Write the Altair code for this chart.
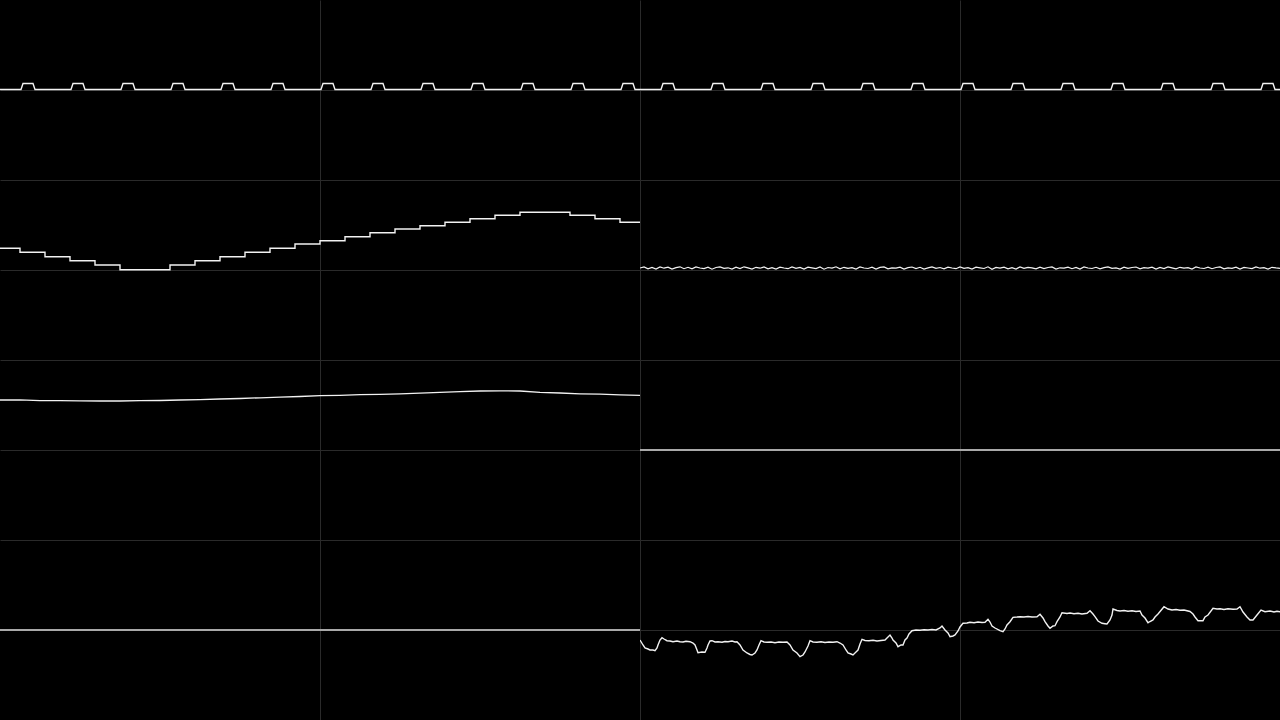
import altair as alt
import pandas as pd
import numpy as np

# ---------------- data (x in samples 0..640 per panel, y offset from panel centre) -------------
pulse_starts = [21, 71, 121, 171, 221, 271, 321, 371, 421, 471, 521, 571, 621]
pulse_low, pulse_high = 0.5, 6.5
pulse_rise, pulse_width = 2, 12

step_x = [0, 20, 45, 70, 95, 120, 170, 195, 220, 245, 270, 295, 320, 345, 370,
          395, 420, 445, 470, 495, 520, 570, 595, 620, 640]
step_y = [21.7, 17.7, 13.3, 9.3, 5, 0.3, 5, 9.3, 13.3, 17.7, 21.7, 26, 29.3, 33.3, 37.3,
          41, 44.3, 47.7, 51.3, 54.7, 57.7, 54.7, 51.3, 47.7, 47.7]

noise_y = [2.0, 3.0, 1.2, 2.6, 1.0, 3.1, 1.8, 2.9, 0.9, 2.4, 3.2, 1.3, 2.7, 1.1, 3.0, 2.0,
           1.4, 2.8, 0.8, 2.5, 3.1, 1.6, 2.2, 1.0, 2.9, 1.5, 3.2, 2.1, 1.0, 2.7, 1.8, 3.0,
           1.2, 2.4, 0.9, 2.8, 2.0, 1.3, 3.1, 1.7, 2.6, 1.0, 2.9, 2.2, 1.4, 3.0, 0.8, 2.5,
           1.9, 3.2, 1.1, 2.7, 1.6, 2.3, 1.0, 3.0, 2.0, 1.5, 2.8, 0.9, 2.6, 3.1, 1.2, 2.2,
           1.8, 2.9, 1.0, 2.4, 3.0, 1.4, 2.7, 0.9, 2.1, 3.1, 1.6, 2.5, 1.1, 2.8, 2.0, 1.3,
           3.0, 1.7, 2.4, 1.0, 2.9, 2.2, 1.5, 3.2, 0.8, 2.6, 1.9, 2.8, 1.2, 2.3, 1.0, 3.0,
           1.6, 2.7, 2.1, 1.1, 2.9, 1.4, 2.5, 3.1, 1.0, 2.2, 1.8, 2.8, 1.3, 2.6, 0.9, 3.0,
           2.0, 1.5, 2.7, 1.2, 2.4, 3.1, 1.7, 2.1, 1.0, 2.9, 1.6, 2.5, 3.0, 1.1, 2.3, 1.9,
           2.8, 1.0, 2.6, 1.4, 3.1, 2.2, 1.2, 2.7, 1.8, 2.4, 0.9, 3.0, 2.0, 1.5, 2.8, 1.3,
           2.5, 3.1, 1.1, 2.2, 1.7, 2.9, 1.0, 2.6, 2.0, 1.4, 3.0, 1.8, 2.3, 1.0, 2.7, 2.1, 1.6]

slow_x = [0, 20, 40, 60, 80, 100, 120, 140, 160, 180, 200, 220, 240, 260, 280, 300, 320,
          340, 360, 380, 400, 420, 440, 460, 480, 500, 520, 540, 560, 580, 600, 620, 640]
slow_y = [50, 50.2, 49.3, 49.3, 49.2, 49, 49, 49.3, 49.5, 50, 50.4, 51, 51.5, 52.2, 52.8, 53.5,
          54.3, 54.6, 55.3, 55.7, 56.2, 56.8, 57.6, 58.3, 59, 59.2, 59, 57.6, 57, 56.2, 55.8,
          55.2, 54.7]

flat_x = [0, 640]
flat_y = [0, 0]

drift_x = [0, 3, 5, 8, 10, 13, 15, 17, 18, 20, 22, 24, 27, 30, 33, 37, 40, 43, 46, 50,
           53, 55, 57, 58, 62, 65, 67, 68, 70, 72, 75, 78, 82, 85, 88, 92, 95, 97, 100, 103,
           107, 110, 112, 115, 117, 119, 121, 124, 127, 131, 135, 139, 143, 147, 150, 153,
           157, 160, 163, 165, 168, 170, 173, 177, 181, 185, 189, 193, 197, 200, 203, 206,
           208, 211, 213, 216, 218, 220, 222, 225, 229, 233, 237, 241, 245, 247, 250, 252,
           253, 256, 258, 261, 263, 265, 267, 269, 272, 276, 280, 284, 288, 292, 296, 300,
           302, 305, 308, 310, 313, 315, 318, 320,
           323, 327, 330, 334, 338, 342, 345, 348, 350, 352, 355, 360, 363, 365, 367, 370,
           373, 377, 380, 384, 388, 392, 397, 400, 403, 405, 408, 410, 413, 415, 417, 420,
           422, 427, 430, 434, 438, 442, 447, 450, 453, 455, 458, 462, 465, 467, 470, 472,
           473, 477, 480, 484, 488, 492, 496, 500, 502, 505, 508, 510, 513, 515, 518, 524,
           528, 532, 536, 540, 544, 550, 553, 555, 558, 563, 565, 568, 573, 577, 580, 584,
           588, 593, 597, 600, 603, 607, 610, 613, 617, 621, 625, 630, 634, 637, 640]
drift_y = [-10, -15, -18, -19, -20, -20, -20.7, -18, -15, -10, -7.7, -9, -10.7, -11, -11.7,
           -11, -11.7, -12, -11.3, -11.7, -13, -15, -20, -22.7, -22, -22.3, -18, -15, -11,
           -10.7, -12, -11.7, -12.3, -11.5, -11.7, -11, -12, -11.7, -15, -20, -23, -24.5, -25,
           -23, -20, -15, -10.7, -12, -12.3, -12, -12.7, -12, -12.3, -12, -15, -20, -23, -26.7,
           -25, -22, -16, -10.7, -12, -12.3, -11.7, -12.5, -12, -12.3, -11.7, -13, -15, -20,
           -23, -24, -25, -22, -20, -14, -9.3, -10.5, -10.7, -10.3, -11, -10.5, -10, -8, -5,
           -8, -10, -13, -16.7, -15, -15, -10, -8, -4, -0.7, 0, -0.3, 0.3, 0, 0.5, 0, 2, 4, 0,
           -3, -6.7, -6, -5, -1, 3,
           6.7, 7, 7.7, 7.3, 8, 7.5, 7.7, 10.7, 8, 4, 2, -0.7, -1.7, 1, 5, 8.3, 12.7, 13, 13.3,
           13, 13.5, 13, 13.3, 15.7, 12, 8.3, 4, 1.7, 4, 4.3, 8.3, 13, 17.3, 16.5, 17, 16.3,
           16.7, 16, 16.7, 19.3, 16, 13.3, 9, 6.7, 6.3, 6, 10, 15, 21, 19.5, 19, 19.5, 18.7,
           19.3, 18.5, 19, 15, 12, 7.3, 8.5, 10, 13, 16, 23.3, 21, 20, 20.5, 19.7, 20, 18.5,
           16, 13, 9.3, 9.3, 13, 15, 21.7, 21, 21.3, 20.5, 21.3, 20.7, 21, 23.3, 18, 13, 10,
           10, 15, 20, 18.3, 19, 18, 18.7, 18.3]
assert len(drift_x) == len(drift_y)

# ---------------- build tables -------------
sq_x, sq_y = [0], [pulse_low]
for s in pulse_starts:
    sq_x += [s, s + pulse_rise, s + pulse_width, s + pulse_width + pulse_rise]
    sq_y += [pulse_low, pulse_high, pulse_high, pulse_low]
sq_x.append(640)
sq_y.append(pulse_low)
square_df = pd.DataFrame({"x": sq_x, "y": sq_y})
step_df = pd.DataFrame({"x": step_x, "y": step_y})
noise_df = pd.DataFrame({"x": np.linspace(0, 640, len(noise_y)), "y": noise_y})
slow_df = pd.DataFrame({"x": slow_x, "y": slow_y})
flat_df = pd.DataFrame({"x": flat_x, "y": flat_y})
drift_df = pd.DataFrame({"x": drift_x, "y": drift_y})

GRID = "#2a2a2a"
TRACE = "#f2f2f2"
FLAT = "#a9a9a9"

xenc = alt.X("x:Q", scale=alt.Scale(domain=[0, 640], nice=False, zero=False),
             axis=alt.Axis(values=[320, 640], grid=True, labels=False, ticks=False,
                           domain=False, title=None, gridColor=GRID, gridWidth=1))
yenc = alt.Y("y:Q", scale=alt.Scale(domain=[-90, 90], nice=False, zero=False),
             axis=alt.Axis(values=[-90, 0], grid=True, labels=False, ticks=False,
                           domain=False, title=None, gridColor=GRID, gridWidth=1))


def panel(df, color=TRACE, width=1.4, interp="linear"):
    return alt.Chart(df).mark_line(color=color, strokeWidth=width, clip=True,
                                   interpolate=interp).encode(x=xenc, y=yenc).properties(
        width=640, height=180)


rows = [
    alt.hconcat(panel(square_df), panel(square_df), spacing=0),
    alt.hconcat(panel(step_df, interp="step-after"), panel(noise_df, width=1.2), spacing=0),
    alt.hconcat(panel(slow_df, width=1.3), panel(flat_df, color=FLAT, width=2), spacing=0),
    alt.hconcat(panel(flat_df, color=FLAT, width=2), panel(drift_df, width=1.4), spacing=0),
]

chart = alt.vconcat(*rows, spacing=0).properties(
    background="#000000", padding=0
).configure_view(stroke=None).configure_concat(spacing=0)

chart.save("out.html", embed_options={"renderer": "svg", "actions": False})
